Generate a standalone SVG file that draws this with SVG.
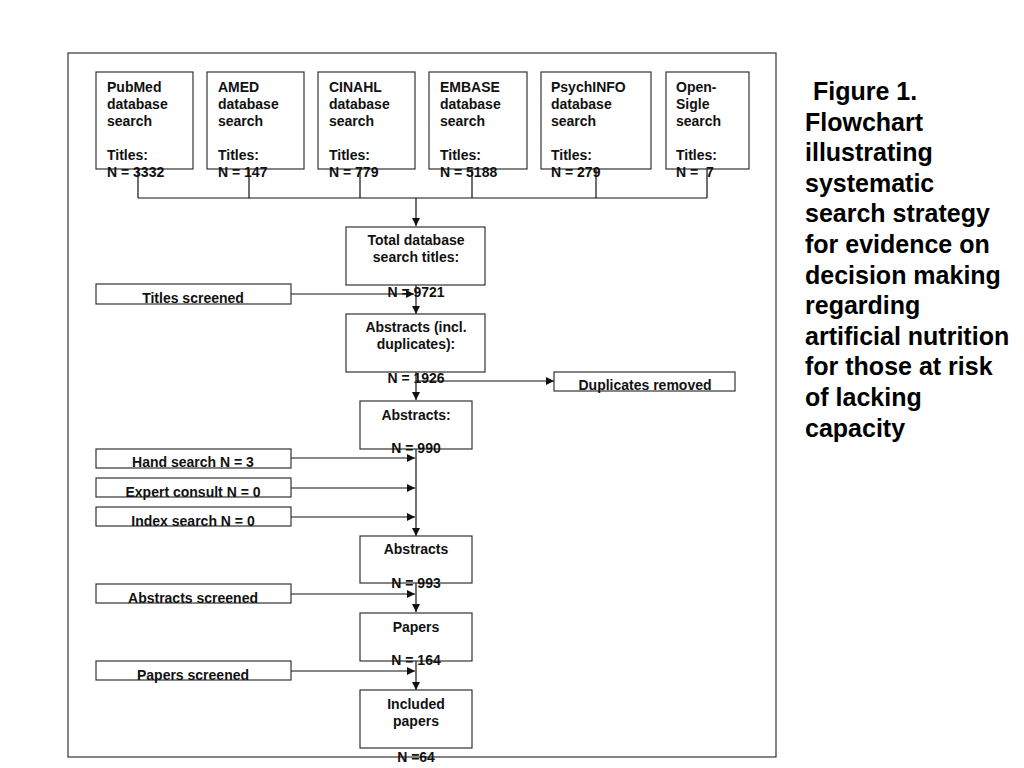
<svg xmlns="http://www.w3.org/2000/svg" width="1024" height="768" viewBox="0 0 1024 768">
<style>
.box{fill:#fff;stroke:#333;stroke-width:1.2}
.t{font-family:"Liberation Sans",Arial,sans-serif;font-weight:bold;font-size:14px;fill:#111}
.c{text-anchor:middle}
.ln{fill:none;stroke:#111;stroke-width:1.2}
.ar{fill:none;stroke:#111;stroke-width:1.2;marker-end:url(#ah)}
.cap{font-family:"Liberation Sans",Arial,sans-serif;font-weight:bold;font-size:25px;fill:#000}
</style>
<defs>
<marker id="ah" viewBox="0 0 10 10" refX="10" refY="5" markerUnits="userSpaceOnUse" markerWidth="9" markerHeight="8" orient="auto">
<path d="M0,0 L10,5 L0,10 z" fill="#111"/>
</marker>
</defs>
<rect width="1024" height="768" fill="#fff"/>
<rect x="68" y="53" width="708" height="704" fill="none" stroke="#333" stroke-width="1.2"/>

<g id="connectors">
<path class="ln" d="M138,169 V198 M249,169 V198 M360,169 V198 M472,169 V198 M596,169 V198 M707,169 V198 M138,198 H707"/>
<path class="ar" d="M416,198 V226"/>
<path class="ar" d="M416,285 V314"/>
<path class="ar" d="M291,294 H414"/>
<path class="ar" d="M416,372 V400"/>
<path class="ar" d="M416,381 H554"/>
<path class="ar" d="M416,449 V536"/>
<path class="ar" d="M291,458 H415"/>
<path class="ar" d="M291,488 H415"/>
<path class="ar" d="M291,517 H415"/>
<path class="ar" d="M416,583 V612"/>
<path class="ar" d="M291,594 H415"/>
<path class="ar" d="M416,661 V690"/>
<path class="ar" d="M291,671 H415"/>
</g>

<g id="pubmed">
<rect class="box" x="96" y="72" width="97" height="97"/>
<text class="t" x="107" y="92">PubMed<tspan x="107" dy="17">database</tspan><tspan x="107" dy="17">search</tspan><tspan x="107" dy="34">Titles:</tspan><tspan x="107" dy="17">N = 3332</tspan></text>
</g>
<g id="amed">
<rect class="box" x="207" y="72" width="97" height="97"/>
<text class="t" x="218" y="92">AMED<tspan x="218" dy="17">database</tspan><tspan x="218" dy="17">search</tspan><tspan x="218" dy="34">Titles:</tspan><tspan x="218" dy="17">N = 147</tspan></text>
</g>
<g id="cinahl">
<rect class="box" x="318" y="72" width="97" height="97"/>
<text class="t" x="329" y="92">CINAHL<tspan x="329" dy="17">database</tspan><tspan x="329" dy="17">search</tspan><tspan x="329" dy="34">Titles:</tspan><tspan x="329" dy="17">N = 779</tspan></text>
</g>
<g id="embase">
<rect class="box" x="429" y="72" width="98" height="97"/>
<text class="t" x="440" y="92">EMBASE<tspan x="440" dy="17">database</tspan><tspan x="440" dy="17">search</tspan><tspan x="440" dy="34">Titles:</tspan><tspan x="440" dy="17">N = 5188</tspan></text>
</g>
<g id="psychinfo">
<rect class="box" x="541" y="72" width="110" height="97"/>
<text class="t" x="551" y="92">PsychINFO<tspan x="551" dy="17">database</tspan><tspan x="551" dy="17">search</tspan><tspan x="551" dy="34">Titles:</tspan><tspan x="551" dy="17">N = 279</tspan></text>
</g>
<g id="opensigle">
<rect class="box" x="666" y="72" width="83" height="97"/>
<text class="t" x="676" y="92">Open-<tspan x="676" dy="17">Sigle</tspan><tspan x="676" dy="17">search</tspan><tspan x="676" dy="34">Titles:</tspan><tspan x="676" dy="17" xml:space="preserve">N =  7</tspan></text>
</g>

<g id="total">
<rect class="box" x="346" y="227" width="139" height="58"/>
<text class="t c" x="416" y="245">Total database<tspan x="416" dy="17">search titles:</tspan><tspan x="416" dy="35">N = 9721</tspan></text>
</g>
<g id="titles-screened">
<rect class="box" x="96" y="284" width="195" height="20"/>
<text class="t c" x="193" y="303">Titles screened</text>
</g>
<g id="abstracts-incl">
<rect class="box" x="346" y="314" width="139" height="58"/>
<text class="t c" x="416" y="332">Abstracts (incl.<tspan x="416" dy="17">duplicates):</tspan><tspan x="416" dy="34">N = 1926</tspan></text>
</g>
<g id="duplicates">
<rect class="box" x="554" y="372" width="181" height="19"/>
<text class="t c" x="645" y="390">Duplicates removed</text>
</g>
<g id="abstracts1">
<rect class="box" x="360" y="401" width="112" height="48"/>
<text class="t c" x="416" y="420">Abstracts:<tspan x="416" dy="33">N = 990</tspan></text>
</g>
<g id="hand-search">
<rect class="box" x="96" y="449" width="195" height="19"/>
<text class="t c" x="193" y="467">Hand search N = 3</text>
</g>
<g id="expert-consult">
<rect class="box" x="96" y="478" width="195" height="19"/>
<text class="t c" x="193" y="497">Expert consult N = 0</text>
</g>
<g id="index-search">
<rect class="box" x="96" y="507" width="195" height="19"/>
<text class="t c" x="193" y="526">Index search N = 0</text>
</g>
<g id="abstracts2">
<rect class="box" x="360" y="536" width="112" height="47"/>
<text class="t c" x="416" y="554">Abstracts<tspan x="416" dy="34">N = 993</tspan></text>
</g>
<g id="abstracts-screened">
<rect class="box" x="96" y="584" width="195" height="19"/>
<text class="t c" x="193" y="603">Abstracts screened</text>
</g>
<g id="papers">
<rect class="box" x="360" y="613" width="112" height="48"/>
<text class="t c" x="416" y="632">Papers<tspan x="416" dy="33">N = 164</tspan></text>
</g>
<g id="papers-screened">
<rect class="box" x="96" y="661" width="195" height="19"/>
<text class="t c" x="193" y="680">Papers screened</text>
</g>
<g id="included">
<rect class="box" x="360" y="690" width="112" height="58"/>
<text class="t c" x="416" y="709">Included<tspan x="416" dy="17">papers</tspan><tspan x="416" dy="36">N =64</tspan></text>
</g>

<g id="caption">
<text class="cap" x="813" y="100">Figure 1.</text>
<text class="cap" x="805" y="130.6">Flowchart</text>
<text class="cap" x="805" y="161.2">illustrating</text>
<text class="cap" x="805" y="191.8">systematic</text>
<text class="cap" x="805" y="222.4">search strategy</text>
<text class="cap" x="805" y="253">for evidence on</text>
<text class="cap" x="805" y="283.6">decision making</text>
<text class="cap" x="805" y="314.2">regarding</text>
<text class="cap" x="805" y="344.8">artificial nutrition</text>
<text class="cap" x="805" y="375.4">for those at risk</text>
<text class="cap" x="805" y="406">of lacking</text>
<text class="cap" x="805" y="436.6">capacity</text>
</g>
</svg>
